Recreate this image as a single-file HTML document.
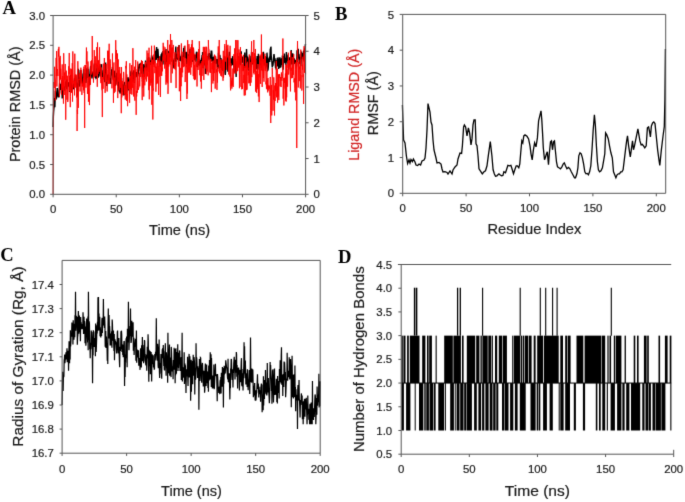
<!DOCTYPE html>
<html><head><meta charset="utf-8"><style>
html,body{margin:0;padding:0;background:#fff;}
svg{display:block;}
#w{width:685px;height:502px;overflow:hidden;will-change:transform;}
</style></head><body><div id="w">
<svg width="685" height="502" viewBox="0 0 685 502">
<defs><filter id="bl" x="0" y="0" width="685" height="502" filterUnits="userSpaceOnUse" color-interpolation-filters="sRGB"><feConvolveMatrix order="3" kernelMatrix="0.01134 0.08382 0.01134 0.08382 0.61935 0.08382 0.01134 0.08382 0.01134" edgeMode="duplicate" preserveAlpha="true"/></filter></defs>
<rect width="685" height="502" fill="#fff"/>
<g filter="url(#bl)">
<rect width="685" height="502" fill="#fff"/>
<polyline points="53.10,127.00 53.35,116.66 53.61,111.96 53.86,108.95 54.11,106.65 54.36,99.03 54.62,98.09 54.87,107.11 55.12,97.99 55.37,90.85 55.62,95.45 55.88,98.81 56.13,99.58 56.38,92.78 56.64,98.21 56.89,92.87 57.14,88.69 57.39,88.71 57.65,90.72 57.90,95.12 58.15,96.76 58.40,94.62 58.66,97.51 58.91,95.11 59.16,97.27 59.41,88.22 59.67,82.79 59.92,90.09 60.17,84.19 60.42,85.79 60.68,87.30 60.93,86.34 61.18,85.91 61.43,93.58 61.69,80.34 61.94,88.40 62.19,98.44 62.44,93.52 62.70,90.78 62.95,92.53 63.20,98.09 63.45,87.70 63.71,87.93 63.96,86.76 64.21,89.30 64.46,88.74 64.72,90.53 64.97,86.64 65.22,86.63 65.47,83.41 65.73,81.73 65.98,83.09 66.23,83.69 66.48,79.45 66.73,89.12 66.99,86.50 67.24,79.70 67.49,86.98 67.75,82.53 68.00,85.67 68.25,84.88 68.50,85.56 68.76,85.48 69.01,82.13 69.26,83.04 69.51,92.04 69.77,77.97 70.02,80.83 70.27,83.78 70.52,78.73 70.78,74.75 71.03,87.96 71.28,83.53 71.53,91.85 71.78,89.24 72.04,85.87 72.29,85.92 72.54,86.59 72.80,89.24 73.05,87.31 73.30,85.04 73.55,84.00 73.81,88.54 74.06,88.45 74.31,80.48 74.56,78.05 74.81,80.98 75.07,78.27 75.32,77.95 75.57,75.23 75.83,76.84 76.08,80.58 76.33,84.88 76.58,82.72 76.84,90.54 77.09,85.10 77.34,96.50 77.59,92.67 77.84,88.52 78.10,82.10 78.35,68.78 78.60,73.57 78.86,77.33 79.11,86.69 79.36,77.00 79.61,86.30 79.87,81.54 80.12,83.30 80.37,69.98 80.62,74.84 80.88,75.11 81.13,79.61 81.38,79.22 81.63,73.62 81.89,79.78 82.14,81.70 82.39,82.16 82.64,84.10 82.90,85.39 83.15,81.10 83.40,73.10 83.65,68.90 83.91,78.57 84.16,80.56 84.41,78.85 84.66,75.59 84.92,75.91 85.17,75.96 85.42,74.35 85.67,71.90 85.93,83.00 86.18,80.09 86.43,74.95 86.68,69.28 86.94,68.87 87.19,74.85 87.44,77.94 87.69,75.17 87.95,74.89 88.20,73.12 88.45,68.69 88.70,76.84 88.96,76.82 89.21,85.85 89.46,76.29 89.71,74.12 89.97,77.38 90.22,74.06 90.47,67.38 90.72,65.87 90.98,69.58 91.23,72.42 91.48,71.87 91.73,76.28 91.99,78.37 92.24,76.44 92.49,74.12 92.74,71.68 93.00,73.87 93.25,76.49 93.50,74.01 93.75,74.38 94.00,71.14 94.26,64.75 94.51,63.25 94.76,70.08 95.02,72.05 95.27,77.91 95.52,74.13 95.77,75.67 96.03,78.35 96.28,78.19 96.53,71.10 96.78,69.32 97.04,69.72 97.29,65.02 97.54,69.09 97.79,73.52 98.05,69.24 98.30,77.73 98.55,72.19 98.80,69.82 99.06,68.49 99.31,65.81 99.56,69.36 99.81,69.42 100.07,76.58 100.32,75.60 100.57,74.83 100.82,71.17 101.08,64.19 101.33,66.45 101.58,64.30 101.83,71.04 102.09,70.18 102.34,77.10 102.59,76.55 102.84,76.72 103.10,74.20 103.35,72.86 103.60,74.13 103.85,75.95 104.11,69.80 104.36,71.94 104.61,82.25 104.86,75.68 105.12,71.69 105.37,67.82 105.62,62.62 105.87,71.46 106.12,71.01 106.38,72.03 106.63,79.36 106.88,86.01 107.14,74.74 107.39,77.64 107.64,77.34 107.89,76.33 108.15,76.29 108.40,74.22 108.65,80.28 108.90,79.21 109.16,77.63 109.41,80.86 109.66,81.07 109.91,79.41 110.17,78.11 110.42,83.77 110.67,81.32 110.92,77.62 111.18,72.56 111.43,72.37 111.68,69.33 111.93,72.95 112.19,75.51 112.44,66.92 112.69,71.70 112.94,76.94 113.20,77.59 113.45,73.17 113.70,80.71 113.95,76.30 114.21,72.02 114.46,70.74 114.71,74.94 114.96,81.59 115.22,85.93 115.47,84.18 115.72,77.46 115.97,76.64 116.23,75.42 116.48,78.14 116.73,72.82 116.98,78.55 117.24,83.95 117.49,83.44 117.74,86.04 117.99,81.51 118.25,77.24 118.50,78.86 118.75,87.67 119.00,91.37 119.26,86.81 119.51,91.75 119.76,87.64 120.01,93.57 120.27,92.11 120.52,87.37 120.77,90.43 121.02,85.20 121.28,81.92 121.53,78.08 121.78,83.59 122.03,85.03 122.28,85.68 122.54,84.60 122.79,92.09 123.04,87.81 123.30,84.41 123.55,91.27 123.80,95.49 124.05,92.94 124.31,82.70 124.56,82.56 124.81,87.76 125.06,87.83 125.31,94.54 125.57,85.29 125.82,89.55 126.07,86.06 126.33,92.79 126.58,89.63 126.83,92.62 127.08,86.63 127.34,80.11 127.59,77.93 127.84,78.80 128.09,77.20 128.34,85.82 128.60,90.51 128.85,88.02 129.10,80.89 129.36,81.07 129.61,78.49 129.86,86.24 130.11,84.97 130.37,84.86 130.62,80.74 130.87,71.48 131.12,72.00 131.38,70.55 131.63,76.04 131.88,77.38 132.13,73.94 132.39,73.79 132.64,81.96 132.89,75.10 133.14,71.74 133.40,72.93 133.65,71.38 133.90,71.66 134.15,75.84 134.41,83.02 134.66,71.29 134.91,72.94 135.16,73.91 135.42,73.74 135.67,73.10 135.92,72.00 136.17,77.16 136.43,73.27 136.68,72.67 136.93,72.81 137.18,73.23 137.44,72.13 137.69,76.53 137.94,74.25 138.19,73.79 138.45,72.47 138.70,67.58 138.95,65.77 139.20,63.80 139.46,68.08 139.71,66.19 139.96,63.62 140.21,67.86 140.47,71.10 140.72,62.71 140.97,73.35 141.22,71.38 141.48,69.68 141.73,73.80 141.98,71.43 142.23,67.21 142.49,77.11 142.74,67.79 142.99,67.17 143.24,70.80 143.50,64.17 143.75,64.89 144.00,67.22 144.25,76.96 144.51,67.41 144.76,66.15 145.01,68.43 145.26,66.91 145.52,60.45 145.77,64.04 146.02,64.39 146.27,65.87 146.53,69.44 146.78,70.56 147.03,68.34 147.28,66.67 147.53,59.58 147.79,60.06 148.04,61.68 148.29,59.65 148.55,60.65 148.80,57.00 149.05,65.24 149.30,71.89 149.56,64.06 149.81,63.41 150.06,60.19 150.31,64.91 150.57,63.82 150.82,61.71 151.07,59.33 151.32,59.65 151.58,54.92 151.83,59.80 152.08,56.21 152.33,59.81 152.59,59.84 152.84,64.02 153.09,61.29 153.34,64.41 153.60,57.54 153.85,60.72 154.10,58.69 154.35,59.47 154.61,59.32 154.86,62.98 155.11,51.99 155.36,56.63 155.62,51.07 155.87,59.97 156.12,50.64 156.37,50.16 156.63,47.01 156.88,59.76 157.13,53.45 157.38,56.36 157.64,54.98 157.89,48.81 158.14,52.04 158.39,57.98 158.65,57.27 158.90,61.77 159.15,58.37 159.40,58.25 159.66,56.48 159.91,58.74 160.16,66.59 160.41,63.85 160.67,61.75 160.92,57.17 161.17,54.27 161.42,62.43 161.68,55.34 161.93,52.64 162.18,54.82 162.43,54.47 162.69,64.61 162.94,50.95 163.19,55.92 163.44,59.92 163.70,53.97 163.95,53.04 164.20,57.23 164.45,64.50 164.71,57.09 164.96,50.51 165.21,58.27 165.46,64.52 165.72,59.59 165.97,48.98 166.22,59.54 166.47,57.66 166.73,62.44 166.98,59.76 167.23,56.97 167.48,55.24 167.74,62.70 167.99,66.25 168.24,52.55 168.49,50.89 168.75,61.80 169.00,57.96 169.25,51.73 169.50,54.51 169.76,55.41 170.01,55.89 170.26,54.47 170.51,54.48 170.77,53.85 171.02,56.94 171.27,53.51 171.52,54.05 171.78,54.94 172.03,61.65 172.28,60.96 172.53,58.52 172.79,60.08 173.04,60.29 173.29,63.37 173.54,62.41 173.80,67.51 174.05,68.13 174.30,62.45 174.55,58.00 174.81,61.40 175.06,61.53 175.31,58.95 175.56,51.69 175.82,46.53 176.07,53.40 176.32,58.68 176.57,61.47 176.83,53.82 177.08,60.07 177.33,56.40 177.58,58.57 177.84,59.79 178.09,55.13 178.34,53.72 178.59,46.62 178.85,48.08 179.10,44.98 179.35,53.15 179.60,55.61 179.86,60.54 180.11,60.61 180.36,56.35 180.61,58.49 180.87,56.37 181.12,59.65 181.37,60.03 181.62,54.59 181.88,56.16 182.13,57.19 182.38,56.14 182.63,60.84 182.89,66.74 183.14,60.69 183.39,57.74 183.64,48.07 183.90,52.42 184.15,53.27 184.40,46.24 184.65,53.34 184.91,58.21 185.16,54.92 185.41,54.84 185.66,52.25 185.92,58.47 186.17,51.72 186.42,53.58 186.67,64.34 186.93,61.51 187.18,61.92 187.43,59.49 187.68,53.84 187.94,55.98 188.19,58.97 188.44,54.30 188.69,57.89 188.95,63.61 189.20,65.74 189.45,55.34 189.70,52.78 189.96,48.77 190.21,58.40 190.46,61.24 190.71,63.09 190.97,57.18 191.22,53.00 191.47,56.31 191.72,58.09 191.98,54.87 192.23,57.59 192.48,61.15 192.73,61.14 192.99,55.67 193.24,48.31 193.49,52.67 193.74,56.71 194.00,56.91 194.25,56.30 194.50,54.88 194.75,60.28 195.01,59.67 195.26,60.15 195.51,55.67 195.76,54.97 196.02,58.03 196.27,54.52 196.52,51.69 196.77,54.32 197.03,62.28 197.28,61.91 197.53,67.23 197.78,63.03 198.04,60.17 198.29,54.08 198.54,54.56 198.79,63.53 199.05,63.22 199.30,64.84 199.55,65.53 199.80,62.79 200.06,60.59 200.31,60.90 200.56,63.46 200.81,63.82 201.07,64.16 201.32,62.88 201.57,58.25 201.82,58.14 202.08,55.15 202.33,62.10 202.58,52.13 202.83,55.31 203.09,68.19 203.34,62.83 203.59,56.72 203.84,58.51 204.10,65.08 204.35,62.09 204.60,63.96 204.85,62.68 205.11,60.01 205.36,73.93 205.61,67.58 205.86,61.77 206.12,59.08 206.37,61.52 206.62,62.87 206.87,65.13 207.12,63.54 207.38,55.94 207.63,60.65 207.88,59.38 208.14,58.85 208.39,53.41 208.64,54.64 208.89,54.60 209.15,57.58 209.40,52.95 209.65,57.15 209.90,59.59 210.16,55.42 210.41,55.50 210.66,54.54 210.91,61.71 211.17,50.43 211.42,54.26 211.67,50.48 211.92,53.92 212.18,61.19 212.43,58.43 212.68,60.40 212.93,57.13 213.19,67.56 213.44,68.35 213.69,69.67 213.94,59.72 214.20,55.73 214.45,63.19 214.70,61.41 214.95,60.26 215.21,62.26 215.46,56.38 215.71,62.24 215.96,61.91 216.22,63.75 216.47,59.70 216.72,62.81 216.97,59.10 217.23,64.44 217.48,67.88 217.73,68.67 217.98,67.36 218.24,67.23 218.49,52.71 218.74,60.79 218.99,60.04 219.25,61.27 219.50,60.26 219.75,54.96 220.00,56.02 220.26,61.74 220.51,67.90 220.76,62.15 221.01,58.07 221.27,66.24 221.52,60.23 221.77,70.03 222.02,66.19 222.28,60.23 222.53,65.35 222.78,70.99 223.03,60.27 223.29,67.89 223.54,63.73 223.79,69.30 224.04,64.00 224.29,56.17 224.55,61.26 224.80,65.64 225.05,72.90 225.31,74.91 225.56,71.47 225.81,65.70 226.06,61.60 226.32,60.52 226.57,57.66 226.82,58.64 227.07,49.30 227.33,56.43 227.58,59.09 227.83,71.65 228.08,70.11 228.34,63.98 228.59,65.43 228.84,58.41 229.09,57.59 229.34,51.71 229.60,63.07 229.85,65.11 230.10,58.46 230.36,59.97 230.61,65.10 230.86,65.69 231.11,65.50 231.37,60.04 231.62,58.26 231.87,60.54 232.12,65.26 232.38,60.04 232.63,56.16 232.88,64.04 233.13,58.99 233.39,65.16 233.64,64.63 233.89,67.13 234.14,72.12 234.39,70.04 234.65,69.38 234.90,61.72 235.15,58.85 235.41,63.21 235.66,69.25 235.91,71.65 236.16,76.86 236.42,70.80 236.67,67.32 236.92,69.08 237.17,65.69 237.43,63.66 237.68,58.40 237.93,64.60 238.18,58.79 238.44,62.76 238.69,56.39 238.94,64.11 239.19,58.79 239.44,64.25 239.70,56.46 239.95,57.55 240.20,65.12 240.46,60.33 240.71,61.73 240.96,60.08 241.21,51.34 241.47,58.32 241.72,62.36 241.97,57.73 242.22,62.70 242.48,59.28 242.73,56.68 242.98,59.77 243.23,58.35 243.49,70.53 243.74,59.97 243.99,64.64 244.24,68.07 244.50,56.95 244.75,52.47 245.00,60.19 245.25,59.48 245.51,62.87 245.76,67.82 246.01,63.73 246.26,58.69 246.52,48.94 246.77,56.75 247.02,55.74 247.27,60.60 247.53,62.67 247.78,56.69 248.03,67.15 248.28,69.59 248.54,69.78 248.79,61.06 249.04,60.05 249.29,58.93 249.55,58.93 249.80,55.85 250.05,61.04 250.30,62.74 250.56,64.16 250.81,61.09 251.06,67.32 251.31,65.65 251.57,52.13 251.82,54.44 252.07,58.11 252.32,64.36 252.58,61.99 252.83,61.01 253.08,58.72 253.33,63.32 253.59,60.78 253.84,58.83 254.09,57.24 254.34,62.05 254.60,59.73 254.85,53.61 255.10,60.49 255.35,58.16 255.61,61.55 255.86,63.29 256.11,67.73 256.36,69.24 256.62,62.95 256.87,61.56 257.12,55.97 257.37,66.00 257.63,65.64 257.88,69.56 258.13,64.07 258.38,53.81 258.64,64.16 258.89,63.09 259.14,62.69 259.39,62.14 259.65,64.39 259.90,65.00 260.15,56.09 260.40,63.20 260.66,59.73 260.91,58.25 261.16,66.98 261.41,67.82 261.67,62.77 261.92,53.65 262.17,57.80 262.42,61.48 262.68,60.62 262.93,55.11 263.18,54.31 263.43,51.87 263.69,56.99 263.94,62.14 264.19,65.59 264.44,59.67 264.70,60.88 264.95,62.84 265.20,59.18 265.45,58.90 265.71,68.57 265.96,65.07 266.21,66.24 266.46,61.08 266.72,60.55 266.97,52.65 267.22,55.99 267.47,62.91 267.73,70.27 267.98,70.02 268.23,67.66 268.48,63.71 268.74,58.88 268.99,58.35 269.24,61.40 269.49,56.85 269.75,61.99 270.00,56.23 270.25,49.89 270.50,50.11 270.76,47.42 271.01,47.37 271.26,58.21 271.51,57.89 271.77,59.57 272.02,64.50 272.27,67.43 272.52,61.28 272.78,66.17 273.03,64.55 273.28,62.11 273.53,62.82 273.79,55.11 274.04,54.05 274.29,56.48 274.54,60.83 274.80,58.78 275.05,58.84 275.30,63.64 275.55,67.98 275.81,67.39 276.06,69.29 276.31,63.02 276.56,60.33 276.82,61.72 277.07,59.76 277.32,57.91 277.57,66.36 277.83,62.58 278.08,57.41 278.33,61.14 278.58,68.87 278.84,65.16 279.09,68.31 279.34,62.68 279.59,59.67 279.85,57.32 280.10,58.54 280.35,67.75 280.60,59.37 280.86,67.27 281.11,59.77 281.36,59.37 281.61,63.81 281.87,65.13 282.12,64.29 282.37,55.50 282.62,59.82 282.88,55.98 283.13,69.62 283.38,64.38 283.63,63.51 283.89,57.29 284.14,57.07 284.39,53.45 284.64,61.47 284.90,60.10 285.15,62.99 285.40,59.03 285.65,57.84 285.91,65.00 286.16,58.79 286.41,52.10 286.66,58.31 286.92,54.71 287.17,55.95 287.42,62.42 287.67,58.17 287.93,63.39 288.18,59.24 288.43,66.58 288.68,69.53 288.94,63.22 289.19,61.19 289.44,57.49 289.69,60.11 289.95,65.53 290.20,57.00 290.45,62.97 290.70,56.20 290.96,54.80 291.21,50.06 291.46,64.52 291.71,62.86 291.97,62.82 292.22,58.78 292.47,64.29 292.72,53.29 292.98,56.98 293.23,68.25 293.48,62.64 293.73,61.55 293.99,63.81 294.24,58.49 294.49,59.42 294.74,63.92 295.00,62.83 295.25,63.02 295.50,59.97 295.75,61.30 296.01,60.82 296.26,66.61 296.51,66.32 296.76,61.95 297.02,50.21 297.27,58.00 297.52,62.05 297.77,56.80 298.03,49.47 298.28,49.49 298.53,58.43 298.78,54.26 299.04,54.76 299.29,57.94 299.54,63.84 299.79,61.39 300.05,59.79 300.30,57.02 300.55,65.04 300.80,66.17 301.06,61.47 301.31,53.26 301.56,51.54 301.81,56.38 302.07,52.93 302.32,57.96 302.57,57.95 302.82,57.41 303.08,58.47 303.33,58.09 303.58,51.81 303.83,50.73 304.09,61.50 304.34,51.28 304.59,48.39 304.84,53.01 305.10,49.41 305.35,44.19 305.60,45.00" fill="none" stroke="#000" stroke-width="1.4" stroke-linejoin="miter"/>
<polyline points="53.10,194.30 53.35,130.00 53.61,95.00 53.86,82.00 54.11,88.00 54.36,86.44 54.62,66.79 54.87,74.58 55.12,84.12 55.37,100.44 55.62,79.94 55.88,76.92 56.13,57.91 56.38,76.10 56.64,51.03 56.89,86.50 57.14,69.30 57.39,69.02 57.65,71.47 57.90,76.02 58.15,51.32 58.40,48.88 58.66,56.48 58.91,46.85 59.16,62.84 59.41,96.69 59.67,57.63 59.92,80.12 60.17,55.89 60.42,79.18 60.68,68.73 60.93,72.55 61.18,79.78 61.43,94.72 61.69,79.11 61.94,77.30 62.19,64.39 62.44,87.62 62.70,76.11 62.95,90.37 63.20,80.06 63.45,103.61 63.71,53.21 63.96,75.83 64.21,94.98 64.46,75.37 64.72,72.47 64.97,79.72 65.22,63.97 65.47,88.52 65.73,119.74 65.98,99.48 66.23,70.64 66.48,74.96 66.73,80.18 66.99,99.75 67.24,75.73 67.49,78.74 67.75,101.98 68.00,99.04 68.25,83.07 68.50,71.80 68.76,66.26 69.01,73.89 69.26,52.98 69.51,91.08 69.77,76.00 70.02,93.09 70.27,107.15 70.52,96.37 70.78,68.58 71.03,89.63 71.28,93.00 71.53,69.22 71.78,70.47 72.04,83.20 72.29,63.13 72.54,101.61 72.80,51.42 73.05,72.06 73.30,81.33 73.55,80.93 73.81,86.80 74.06,87.67 74.31,80.84 74.56,95.36 74.81,53.69 75.07,80.35 75.32,74.52 75.57,86.94 75.83,87.70 76.08,74.58 76.33,76.73 76.58,97.45 76.84,91.11 77.09,131.00 77.34,109.79 77.59,114.00 77.84,61.20 78.10,79.19 78.35,107.85 78.60,84.55 78.86,78.97 79.11,80.03 79.36,73.67 79.61,76.63 79.87,73.28 80.12,91.45 80.37,76.43 80.62,75.50 80.88,67.67 81.13,83.63 81.38,69.93 81.63,79.01 81.89,94.91 82.14,83.71 82.39,86.61 82.64,82.86 82.90,82.03 83.15,80.23 83.40,78.16 83.65,90.34 83.91,66.60 84.16,92.93 84.41,74.27 84.66,128.00 84.92,65.03 85.17,66.07 85.42,73.24 85.67,65.15 85.93,87.67 86.18,65.88 86.43,47.55 86.68,63.81 86.94,51.35 87.19,80.37 87.44,93.89 87.69,87.56 87.95,61.46 88.20,66.23 88.45,101.73 88.70,81.36 88.96,77.11 89.21,88.54 89.46,105.08 89.71,87.43 89.97,76.47 90.22,78.97 90.47,84.88 90.72,68.85 90.98,61.13 91.23,74.55 91.48,60.41 91.73,72.03 91.99,73.28 92.24,36.00 92.49,57.67 92.74,65.93 93.00,70.57 93.25,76.90 93.50,82.57 93.75,64.50 94.00,64.31 94.26,50.11 94.51,59.24 94.76,76.90 95.02,66.86 95.27,56.27 95.52,65.19 95.77,71.17 96.03,75.85 96.28,63.61 96.53,67.08 96.78,47.17 97.04,53.47 97.29,86.80 97.54,42.48 97.79,65.43 98.05,73.90 98.30,66.59 98.55,60.27 98.80,69.03 99.06,71.88 99.31,70.37 99.56,47.27 99.81,69.83 100.07,63.93 100.32,69.33 100.57,79.75 100.82,83.12 101.08,82.70 101.33,67.49 101.58,88.00 101.83,90.39 102.09,90.91 102.34,117.06 102.59,77.25 102.84,78.24 103.10,88.78 103.35,63.63 103.60,79.48 103.85,71.64 104.11,74.21 104.36,57.99 104.61,72.59 104.86,85.91 105.12,92.87 105.37,88.84 105.62,76.83 105.87,72.34 106.12,64.00 106.38,81.84 106.63,69.06 106.88,75.08 107.14,91.49 107.39,69.55 107.64,50.85 107.89,59.81 108.15,50.59 108.40,51.01 108.65,83.97 108.90,68.88 109.16,43.75 109.41,74.68 109.66,83.65 109.91,65.05 110.17,59.39 110.42,63.20 110.67,69.89 110.92,73.65 111.18,82.62 111.43,82.31 111.68,84.21 111.93,88.35 112.19,85.17 112.44,53.49 112.69,74.11 112.94,79.65 113.20,70.77 113.45,102.80 113.70,67.05 113.95,62.46 114.21,93.08 114.46,83.73 114.71,77.63 114.96,90.01 115.22,91.66 115.47,76.93 115.72,40.16 115.97,59.11 116.23,55.44 116.48,50.02 116.73,70.91 116.98,85.29 117.24,62.42 117.49,53.50 117.74,98.09 117.99,68.21 118.25,59.38 118.50,78.53 118.75,81.67 119.00,70.06 119.26,90.32 119.51,74.92 119.76,66.97 120.01,82.26 120.27,87.98 120.52,73.55 120.77,82.27 121.02,77.08 121.28,113.19 121.53,67.08 121.78,97.46 122.03,83.42 122.28,80.94 122.54,92.79 122.79,95.27 123.04,93.10 123.30,82.85 123.55,71.89 123.80,73.17 124.05,83.44 124.31,84.25 124.56,94.15 124.81,85.81 125.06,94.25 125.31,99.57 125.57,87.09 125.82,65.91 126.07,68.40 126.33,61.22 126.58,100.70 126.83,74.43 127.08,100.27 127.34,93.65 127.59,106.19 127.84,97.76 128.09,83.86 128.34,81.86 128.60,84.96 128.85,89.07 129.10,81.44 129.36,86.11 129.61,102.80 129.86,63.23 130.11,88.93 130.37,76.09 130.62,87.94 130.87,93.93 131.12,80.80 131.38,90.07 131.63,65.10 131.88,94.60 132.13,74.51 132.39,87.90 132.64,83.16 132.89,48.17 133.14,68.94 133.40,78.64 133.65,96.43 133.90,80.64 134.15,82.07 134.41,66.69 134.66,97.94 134.91,100.70 135.16,80.99 135.42,78.13 135.67,60.05 135.92,89.71 136.17,114.84 136.43,91.17 136.68,96.48 136.93,85.70 137.18,69.19 137.44,92.68 137.69,61.51 137.94,76.58 138.19,80.26 138.45,89.87 138.70,87.92 138.95,87.63 139.20,75.23 139.46,72.81 139.71,86.35 139.96,75.28 140.21,64.84 140.47,65.22 140.72,77.02 140.97,63.07 141.22,65.80 141.48,60.20 141.73,79.44 141.98,82.64 142.23,100.11 142.49,61.03 142.74,70.77 142.99,87.83 143.24,74.90 143.50,74.00 143.75,96.56 144.00,74.46 144.25,69.03 144.51,67.62 144.76,85.36 145.01,80.46 145.26,62.24 145.52,62.01 145.77,76.36 146.02,79.43 146.27,67.57 146.53,81.48 146.78,77.22 147.03,50.54 147.28,66.17 147.53,76.42 147.79,70.61 148.04,53.11 148.29,71.81 148.55,80.74 148.80,90.16 149.05,47.72 149.30,99.30 149.56,58.19 149.81,79.46 150.06,85.70 150.31,85.43 150.57,78.29 150.82,62.08 151.07,82.92 151.32,67.18 151.58,45.78 151.83,104.73 152.08,78.14 152.33,87.77 152.59,59.75 152.84,119.50 153.09,88.49 153.34,90.49 153.60,68.99 153.85,54.52 154.10,66.95 154.35,45.63 154.61,50.63 154.86,73.18 155.11,61.46 155.36,67.89 155.62,66.74 155.87,91.71 156.12,85.79 156.37,66.68 156.63,84.13 156.88,63.30 157.13,70.94 157.38,83.39 157.64,58.39 157.89,66.41 158.14,60.42 158.39,75.31 158.65,95.00 158.90,66.06 159.15,76.62 159.40,59.89 159.66,56.24 159.91,57.50 160.16,84.43 160.41,96.99 160.67,76.61 160.92,60.73 161.17,75.46 161.42,63.12 161.68,75.90 161.93,69.32 162.18,67.77 162.43,71.30 162.69,56.49 162.94,56.44 163.19,42.82 163.44,59.79 163.70,46.11 163.95,61.13 164.20,51.46 164.45,61.88 164.71,68.59 164.96,47.29 165.21,57.83 165.46,54.73 165.72,74.49 165.97,84.67 166.22,73.72 166.47,62.03 166.73,81.80 166.98,50.29 167.23,83.31 167.48,57.07 167.74,40.00 167.99,93.89 168.24,84.25 168.49,53.32 168.75,66.58 169.00,58.75 169.25,64.23 169.50,44.74 169.76,50.28 170.01,63.86 170.26,64.41 170.51,34.00 170.77,58.44 171.02,82.83 171.27,47.78 171.52,60.57 171.78,40.00 172.03,42.64 172.28,73.36 172.53,47.51 172.79,65.46 173.04,57.43 173.29,44.94 173.54,49.82 173.80,53.52 174.05,53.86 174.30,68.71 174.55,68.07 174.81,55.38 175.06,52.22 175.31,69.60 175.56,62.82 175.82,71.88 176.07,88.06 176.32,66.12 176.57,59.17 176.83,60.07 177.08,50.84 177.33,47.91 177.58,47.03 177.84,57.54 178.09,51.53 178.34,66.62 178.59,52.67 178.85,58.13 179.10,45.25 179.35,91.28 179.60,61.90 179.86,74.99 180.11,68.37 180.36,78.34 180.61,101.00 180.87,67.86 181.12,86.21 181.37,43.45 181.62,70.75 181.88,77.22 182.13,63.83 182.38,65.93 182.63,72.41 182.89,51.77 183.14,67.19 183.39,57.04 183.64,58.49 183.90,57.19 184.15,62.37 184.40,64.33 184.65,66.39 184.91,45.60 185.16,82.03 185.41,74.68 185.66,69.97 185.92,58.62 186.17,61.48 186.42,67.36 186.67,64.23 186.93,99.00 187.18,67.62 187.43,93.49 187.68,40.10 187.94,69.85 188.19,63.75 188.44,56.11 188.69,72.65 188.95,44.09 189.20,55.92 189.45,72.43 189.70,55.15 189.96,53.33 190.21,59.41 190.46,53.17 190.71,74.68 190.97,47.21 191.22,67.35 191.47,44.34 191.72,64.54 191.98,57.33 192.23,40.00 192.48,60.05 192.73,47.62 192.99,56.63 193.24,76.14 193.49,47.62 193.74,49.41 194.00,79.11 194.25,65.05 194.50,80.11 194.75,65.90 195.01,53.80 195.26,64.20 195.51,79.47 195.76,72.77 196.02,63.53 196.27,66.79 196.52,66.89 196.77,61.51 197.03,86.48 197.28,66.45 197.53,52.78 197.78,54.64 198.04,70.01 198.29,66.25 198.54,55.34 198.79,49.00 199.05,60.97 199.30,41.18 199.55,46.71 199.80,75.23 200.06,63.77 200.31,72.75 200.56,81.44 200.81,71.75 201.07,63.05 201.32,88.68 201.57,72.78 201.82,61.17 202.08,75.88 202.33,70.07 202.58,55.24 202.83,67.58 203.09,65.84 203.34,46.88 203.59,67.86 203.84,80.00 204.10,63.65 204.35,46.88 204.60,58.14 204.85,63.48 205.11,65.17 205.36,51.60 205.61,68.47 205.86,46.74 206.12,57.58 206.37,74.21 206.62,46.87 206.87,49.76 207.12,71.59 207.38,56.32 207.63,56.64 207.88,63.39 208.14,75.35 208.39,40.00 208.64,48.50 208.89,48.63 209.15,49.92 209.40,56.72 209.65,59.15 209.90,72.58 210.16,58.73 210.41,71.67 210.66,72.95 210.91,59.16 211.17,70.82 211.42,92.12 211.67,75.20 211.92,62.91 212.18,69.24 212.43,61.52 212.68,74.25 212.93,83.52 213.19,60.44 213.44,66.41 213.69,80.85 213.94,63.34 214.20,73.06 214.45,54.65 214.70,54.76 214.95,59.20 215.21,88.65 215.46,55.82 215.71,57.41 215.96,58.35 216.22,64.04 216.47,72.28 216.72,69.25 216.97,89.88 217.23,70.95 217.48,82.58 217.73,67.07 217.98,71.48 218.24,46.40 218.49,63.36 218.74,64.64 218.99,60.50 219.25,40.00 219.50,73.28 219.75,60.99 220.00,58.92 220.26,60.20 220.51,63.50 220.76,75.68 221.01,59.88 221.27,62.52 221.52,75.89 221.77,76.53 222.02,68.73 222.28,63.05 222.53,59.59 222.78,68.95 223.03,80.74 223.29,50.80 223.54,77.77 223.79,72.15 224.04,55.82 224.29,70.45 224.55,45.40 224.80,44.12 225.05,48.64 225.31,60.22 225.56,59.24 225.81,56.55 226.06,61.79 226.32,40.00 226.57,69.81 226.82,46.05 227.07,54.49 227.33,57.36 227.58,50.76 227.83,44.82 228.08,47.42 228.34,59.10 228.59,72.78 228.84,74.59 229.09,55.77 229.34,59.47 229.60,62.15 229.85,76.53 230.10,45.77 230.36,86.22 230.61,90.39 230.86,63.36 231.11,74.31 231.37,86.10 231.62,80.66 231.87,88.63 232.12,77.85 232.38,84.50 232.63,85.49 232.88,68.51 233.13,86.97 233.39,72.93 233.64,70.47 233.89,54.23 234.14,62.62 234.39,73.44 234.65,48.36 234.90,70.37 235.15,66.53 235.41,60.95 235.66,40.00 235.91,61.71 236.16,73.57 236.42,61.48 236.67,70.93 236.92,40.00 237.17,71.18 237.43,53.11 237.68,71.02 237.93,40.18 238.18,66.39 238.44,57.65 238.69,67.68 238.94,49.41 239.19,54.01 239.44,88.24 239.70,52.81 239.95,54.00 240.20,58.72 240.46,47.15 240.71,74.86 240.96,86.82 241.21,63.15 241.47,53.90 241.72,89.32 241.97,86.31 242.22,85.90 242.48,89.00 242.73,64.12 242.98,71.20 243.23,56.61 243.49,54.89 243.74,83.12 243.99,74.87 244.24,95.53 244.50,74.99 244.75,65.93 245.00,82.21 245.25,95.25 245.51,80.91 245.76,57.54 246.01,75.99 246.26,90.18 246.52,68.26 246.77,64.91 247.02,89.63 247.27,76.84 247.53,61.79 247.78,68.88 248.03,67.74 248.28,75.20 248.54,71.61 248.79,83.26 249.04,80.08 249.29,54.51 249.55,81.38 249.80,83.14 250.05,79.78 250.30,85.89 250.56,65.42 250.81,62.14 251.06,82.63 251.31,54.22 251.57,41.29 251.82,77.11 252.07,56.00 252.32,63.36 252.58,52.08 252.83,57.42 253.08,59.07 253.33,65.22 253.59,72.91 253.84,40.00 254.09,74.38 254.34,53.39 254.60,54.22 254.85,71.66 255.10,65.79 255.35,48.98 255.61,91.60 255.86,59.89 256.11,75.30 256.36,75.07 256.62,92.82 256.87,70.98 257.12,89.23 257.37,68.57 257.63,87.18 257.88,64.03 258.13,68.38 258.38,96.41 258.64,74.17 258.89,76.05 259.14,102.05 259.39,76.26 259.65,58.27 259.90,77.30 260.15,54.67 260.40,81.77 260.66,83.82 260.91,61.42 261.16,62.89 261.41,34.50 261.67,70.44 261.92,61.61 262.17,86.98 262.42,52.38 262.68,70.90 262.93,69.50 263.18,73.49 263.43,78.08 263.69,58.87 263.94,81.73 264.19,70.75 264.44,63.75 264.70,55.11 264.95,53.64 265.20,70.94 265.45,55.94 265.71,70.88 265.96,84.36 266.21,81.37 266.46,88.75 266.72,69.85 266.97,62.92 267.22,89.56 267.47,79.71 267.73,92.37 267.98,78.00 268.23,90.52 268.48,85.42 268.74,88.51 268.99,86.98 269.24,88.86 269.49,85.65 269.75,87.96 270.00,95.73 270.25,76.97 270.50,110.69 270.76,123.00 271.01,100.47 271.26,86.47 271.51,84.90 271.77,115.41 272.02,84.59 272.27,68.01 272.52,74.51 272.78,79.76 273.03,110.80 273.28,90.14 273.53,99.62 273.79,77.35 274.04,90.88 274.29,96.85 274.54,115.49 274.80,85.50 275.05,101.02 275.30,96.65 275.55,83.06 275.81,91.17 276.06,86.43 276.31,60.86 276.56,97.32 276.82,94.09 277.07,81.60 277.32,68.70 277.57,102.67 277.83,86.48 278.08,92.15 278.33,96.56 278.58,74.54 278.84,100.10 279.09,74.05 279.34,77.55 279.59,74.17 279.85,75.48 280.10,86.36 280.35,76.99 280.60,79.05 280.86,81.47 281.11,87.03 281.36,72.45 281.61,76.24 281.87,80.82 282.12,77.16 282.37,78.05 282.62,73.74 282.88,38.50 283.13,98.69 283.38,87.11 283.63,78.19 283.89,105.45 284.14,83.62 284.39,77.76 284.64,82.84 284.90,80.74 285.15,88.55 285.40,73.50 285.65,100.80 285.91,64.47 286.16,101.62 286.41,64.85 286.66,97.35 286.92,69.11 287.17,71.82 287.42,86.47 287.67,86.71 287.93,60.81 288.18,68.20 288.43,52.74 288.68,74.55 288.94,71.18 289.19,64.93 289.44,60.30 289.69,66.45 289.95,64.83 290.20,78.79 290.45,91.41 290.70,50.98 290.96,70.81 291.21,67.68 291.46,78.21 291.71,78.08 291.97,67.60 292.22,57.02 292.47,78.05 292.72,69.48 292.98,65.50 293.23,74.90 293.48,67.90 293.73,54.08 293.99,82.38 294.24,79.27 294.49,78.37 294.74,88.62 295.00,92.30 295.25,62.61 295.50,69.82 295.75,100.40 296.01,92.52 296.26,63.51 296.51,59.39 296.76,148.00 297.02,69.88 297.27,55.81 297.52,41.00 297.77,60.54 298.03,60.32 298.28,87.47 298.53,62.08 298.78,70.84 299.04,76.57 299.29,81.15 299.54,66.64 299.79,69.03 300.05,59.73 300.30,88.43 300.55,73.56 300.80,49.61 301.06,63.86 301.31,74.41 301.56,74.60 301.81,90.55 302.07,87.71 302.32,64.75 302.57,69.72 302.82,56.72 303.08,77.11 303.33,74.53 303.58,103.94 303.83,72.28 304.09,46.24 304.34,60.90 304.59,72.77 304.84,55.36 305.10,61.01 305.35,64.87 305.60,74.22" fill="none" stroke="#ff0000" stroke-width="0.9" stroke-linejoin="miter"/>
<line x1="53.10" y1="15.50" x2="305.60" y2="15.50" stroke="#555555" stroke-width="1.0"/>
<line x1="53.10" y1="194.30" x2="305.60" y2="194.30" stroke="#555555" stroke-width="1.0"/>
<line x1="53.10" y1="15.50" x2="53.10" y2="194.30" stroke="#555555" stroke-width="1.0"/>
<line x1="305.60" y1="15.50" x2="305.60" y2="194.30" stroke="#555555" stroke-width="1.0"/>
<line x1="50.10" y1="194.30" x2="53.10" y2="194.30" stroke="#555555" stroke-width="1.0"/>
<text x="45.00" y="198.40" font-size="11.4" text-anchor="end" fill="#1a1a1a" font-family='"Liberation Sans", sans-serif' font-weight="normal" stroke="#1a1a1a" stroke-width="0.2">0.0</text>
<line x1="50.10" y1="164.50" x2="53.10" y2="164.50" stroke="#555555" stroke-width="1.0"/>
<text x="45.00" y="168.60" font-size="11.4" text-anchor="end" fill="#1a1a1a" font-family='"Liberation Sans", sans-serif' font-weight="normal" stroke="#1a1a1a" stroke-width="0.2">0.5</text>
<line x1="50.10" y1="134.70" x2="53.10" y2="134.70" stroke="#555555" stroke-width="1.0"/>
<text x="45.00" y="138.80" font-size="11.4" text-anchor="end" fill="#1a1a1a" font-family='"Liberation Sans", sans-serif' font-weight="normal" stroke="#1a1a1a" stroke-width="0.2">1.0</text>
<line x1="50.10" y1="104.90" x2="53.10" y2="104.90" stroke="#555555" stroke-width="1.0"/>
<text x="45.00" y="109.00" font-size="11.4" text-anchor="end" fill="#1a1a1a" font-family='"Liberation Sans", sans-serif' font-weight="normal" stroke="#1a1a1a" stroke-width="0.2">1.5</text>
<line x1="50.10" y1="75.10" x2="53.10" y2="75.10" stroke="#555555" stroke-width="1.0"/>
<text x="45.00" y="79.20" font-size="11.4" text-anchor="end" fill="#1a1a1a" font-family='"Liberation Sans", sans-serif' font-weight="normal" stroke="#1a1a1a" stroke-width="0.2">2.0</text>
<line x1="50.10" y1="45.30" x2="53.10" y2="45.30" stroke="#555555" stroke-width="1.0"/>
<text x="45.00" y="49.40" font-size="11.4" text-anchor="end" fill="#1a1a1a" font-family='"Liberation Sans", sans-serif' font-weight="normal" stroke="#1a1a1a" stroke-width="0.2">2.5</text>
<line x1="50.10" y1="15.50" x2="53.10" y2="15.50" stroke="#555555" stroke-width="1.0"/>
<text x="45.00" y="19.60" font-size="11.4" text-anchor="end" fill="#1a1a1a" font-family='"Liberation Sans", sans-serif' font-weight="normal" stroke="#1a1a1a" stroke-width="0.2">3.0</text>
<line x1="305.60" y1="194.30" x2="308.60" y2="194.30" stroke="#555555" stroke-width="1.0"/>
<text x="313.60" y="198.40" font-size="11.4" text-anchor="start" fill="#1a1a1a" font-family='"Liberation Sans", sans-serif' font-weight="normal" stroke="#1a1a1a" stroke-width="0.2">0</text>
<line x1="305.60" y1="158.54" x2="308.60" y2="158.54" stroke="#555555" stroke-width="1.0"/>
<text x="313.60" y="162.64" font-size="11.4" text-anchor="start" fill="#1a1a1a" font-family='"Liberation Sans", sans-serif' font-weight="normal" stroke="#1a1a1a" stroke-width="0.2">1</text>
<line x1="305.60" y1="122.78" x2="308.60" y2="122.78" stroke="#555555" stroke-width="1.0"/>
<text x="313.60" y="126.88" font-size="11.4" text-anchor="start" fill="#1a1a1a" font-family='"Liberation Sans", sans-serif' font-weight="normal" stroke="#1a1a1a" stroke-width="0.2">2</text>
<line x1="305.60" y1="87.02" x2="308.60" y2="87.02" stroke="#555555" stroke-width="1.0"/>
<text x="313.60" y="91.12" font-size="11.4" text-anchor="start" fill="#1a1a1a" font-family='"Liberation Sans", sans-serif' font-weight="normal" stroke="#1a1a1a" stroke-width="0.2">3</text>
<line x1="305.60" y1="51.26" x2="308.60" y2="51.26" stroke="#555555" stroke-width="1.0"/>
<text x="313.60" y="55.36" font-size="11.4" text-anchor="start" fill="#1a1a1a" font-family='"Liberation Sans", sans-serif' font-weight="normal" stroke="#1a1a1a" stroke-width="0.2">4</text>
<line x1="305.60" y1="15.50" x2="308.60" y2="15.50" stroke="#555555" stroke-width="1.0"/>
<text x="313.60" y="19.60" font-size="11.4" text-anchor="start" fill="#1a1a1a" font-family='"Liberation Sans", sans-serif' font-weight="normal" stroke="#1a1a1a" stroke-width="0.2">5</text>
<line x1="53.10" y1="194.30" x2="53.10" y2="197.30" stroke="#555555" stroke-width="1.0"/>
<text x="53.10" y="212.70" font-size="11.4" text-anchor="middle" fill="#1a1a1a" font-family='"Liberation Sans", sans-serif' font-weight="normal" stroke="#1a1a1a" stroke-width="0.2">0</text>
<line x1="116.23" y1="194.30" x2="116.23" y2="197.30" stroke="#555555" stroke-width="1.0"/>
<text x="116.23" y="212.70" font-size="11.4" text-anchor="middle" fill="#1a1a1a" font-family='"Liberation Sans", sans-serif' font-weight="normal" stroke="#1a1a1a" stroke-width="0.2">50</text>
<line x1="179.35" y1="194.30" x2="179.35" y2="197.30" stroke="#555555" stroke-width="1.0"/>
<text x="179.35" y="212.70" font-size="11.4" text-anchor="middle" fill="#1a1a1a" font-family='"Liberation Sans", sans-serif' font-weight="normal" stroke="#1a1a1a" stroke-width="0.2">100</text>
<line x1="242.48" y1="194.30" x2="242.48" y2="197.30" stroke="#555555" stroke-width="1.0"/>
<text x="242.48" y="212.70" font-size="11.4" text-anchor="middle" fill="#1a1a1a" font-family='"Liberation Sans", sans-serif' font-weight="normal" stroke="#1a1a1a" stroke-width="0.2">150</text>
<line x1="305.60" y1="194.30" x2="305.60" y2="197.30" stroke="#555555" stroke-width="1.0"/>
<text x="305.60" y="212.70" font-size="11.4" text-anchor="middle" fill="#1a1a1a" font-family='"Liberation Sans", sans-serif' font-weight="normal" stroke="#1a1a1a" stroke-width="0.2">200</text>
<text x="179.60" y="234.60" font-size="14.2" text-anchor="middle" fill="#1a1a1a" font-family='"Liberation Sans", sans-serif' font-weight="normal" stroke="#1a1a1a" stroke-width="0.2" textLength="61.00" lengthAdjust="spacingAndGlyphs">Time (ns)</text>
<text x="20.40" y="104.30" font-size="14.2" text-anchor="middle" fill="#1a1a1a" font-family='"Liberation Sans", sans-serif' font-weight="normal" stroke="#1a1a1a" stroke-width="0.2" transform="rotate(-90 20.40 104.30)" textLength="115.60" lengthAdjust="spacingAndGlyphs">Protein RMSD (Å)</text>
<text x="358.80" y="104.80" font-size="14.2" text-anchor="middle" fill="#d22424" font-family='"Liberation Sans", sans-serif' font-weight="normal" stroke="#d22424" stroke-width="0.2" transform="rotate(-90 358.80 104.80)" textLength="112.00" lengthAdjust="spacingAndGlyphs">Ligand RMSD (Å)</text>
<text x="2.50" y="13.70" font-size="18.6" text-anchor="start" fill="#000" font-family='"Liberation Serif", serif' font-weight="bold">A</text>
<polyline points="402.40,105.00 403.60,140.00 405.00,143.00 406.40,156.00 407.60,163.60 409.00,160.00 410.00,163.00 411.00,159.60 412.40,161.60 413.40,159.00 415.00,162.00 416.00,165.00 417.60,165.60 419.00,164.00 420.60,165.00 422.00,161.00 424.00,160.00 425.00,158.00 426.00,148.00 427.00,130.00 428.00,103.60 430.00,112.00 431.00,122.00 432.00,125.00 433.00,140.00 434.00,150.00 436.00,158.00 437.00,163.00 439.00,162.40 441.00,164.00 442.00,169.00 443.00,172.00 445.00,171.60 447.00,172.40 448.00,174.00 450.00,171.00 452.00,174.00 453.00,170.00 455.00,167.00 457.00,165.00 458.00,159.00 460.00,153.00 461.60,153.40 462.40,145.80 463.60,126.90 464.40,124.90 465.60,126.90 467.00,135.90 468.40,127.90 469.60,132.90 471.00,144.80 472.00,138.90 473.00,124.90 474.00,119.90 475.20,119.90 476.00,143.80 477.00,145.80 478.00,155.80 479.00,168.80 481.00,171.80 482.30,173.80 484.00,171.80 485.50,170.80 487.00,165.80 488.30,155.80 490.30,141.50 491.90,155.80 493.10,169.80 494.30,173.80 495.50,176.20 496.90,175.80 498.90,173.80 499.90,174.80 501.50,175.80 502.90,175.40 503.90,171.80 505.50,172.80 506.50,169.80 507.90,165.40 509.50,165.80 510.90,165.40 512.30,169.80 513.50,173.80 514.80,169.80 516.20,165.80 517.40,165.80 518.80,167.80 519.80,163.80 520.80,151.80 521.80,140.90 522.80,142.90 523.80,135.90 525.00,134.90 527.00,136.30 528.60,138.90 530.00,145.80 531.00,153.80 532.20,159.80 533.40,149.80 534.60,142.90 536.00,146.80 537.40,137.90 538.60,120.90 539.80,115.90 541.00,110.90 541.80,119.90 542.60,133.90 543.30,147.80 544.50,159.80 545.30,157.80 546.50,153.80 547.30,151.80 548.50,164.80 549.30,153.80 550.50,141.90 551.50,140.90 552.50,149.80 553.50,141.90 554.50,140.90 555.30,149.80 556.50,161.80 557.50,166.80 558.90,167.80 560.50,168.80 561.90,166.80 563.30,163.80 564.30,162.80 565.50,165.80 566.90,168.80 568.50,167.40 569.90,168.80 571.30,171.80 572.90,174.80 574.50,177.80 575.50,177.80 576.90,173.80 577.90,167.80 578.80,155.80 580.00,152.80 581.20,153.80 582.40,157.80 583.60,163.80 584.80,171.80 586.00,173.80 587.20,173.40 588.40,174.80 589.60,171.80 590.80,165.80 592.00,149.80 593.20,129.90 594.40,114.90 595.40,125.90 596.40,145.80 597.40,161.80 598.40,169.80 599.60,171.80 601.00,170.80 602.40,167.80 603.60,160.80 604.80,153.80 605.60,132.90 606.80,134.90 608.30,138.90 609.50,145.80 610.90,152.80 612.30,157.80 613.50,171.80 614.70,174.80 615.90,177.80 617.10,174.80 618.30,173.80 619.50,173.80 620.70,171.80 621.90,171.80 623.10,169.80 624.30,159.80 625.50,149.80 626.50,141.90 627.50,135.90 628.50,144.80 629.50,151.80 630.30,156.80 631.30,149.80 632.50,140.90 633.50,149.80 634.50,145.80 635.50,140.90 636.90,133.90 637.90,128.90 638.90,134.90 639.90,140.90 641.10,144.80 642.30,144.20 643.50,145.80 644.80,147.80 646.20,145.80 647.40,127.90 648.60,126.90 649.60,131.90 650.40,136.90 651.40,125.90 652.60,122.90 653.80,121.90 655.00,123.60 656.50,138.50 657.70,150.40 658.90,159.40 659.80,165.40 661.30,150.40 663.10,135.50 664.30,126.60 664.90,99.70 665.40,49.00" fill="none" stroke="#000" stroke-width="1.3" stroke-linejoin="miter"/>
<line x1="402.70" y1="14.40" x2="665.70" y2="14.40" stroke="#555555" stroke-width="1.0"/>
<line x1="402.70" y1="193.30" x2="665.70" y2="193.30" stroke="#555555" stroke-width="1.0"/>
<line x1="402.70" y1="14.40" x2="402.70" y2="193.30" stroke="#555555" stroke-width="1.0"/>
<line x1="665.70" y1="14.40" x2="665.70" y2="193.30" stroke="#555555" stroke-width="1.0"/>
<line x1="399.70" y1="193.30" x2="402.70" y2="193.30" stroke="#555555" stroke-width="1.0"/>
<text x="394.20" y="197.40" font-size="11.4" text-anchor="end" fill="#1a1a1a" font-family='"Liberation Sans", sans-serif' font-weight="normal" stroke="#1a1a1a" stroke-width="0.2">0</text>
<line x1="399.70" y1="157.52" x2="402.70" y2="157.52" stroke="#555555" stroke-width="1.0"/>
<text x="394.20" y="161.62" font-size="11.4" text-anchor="end" fill="#1a1a1a" font-family='"Liberation Sans", sans-serif' font-weight="normal" stroke="#1a1a1a" stroke-width="0.2">1</text>
<line x1="399.70" y1="121.74" x2="402.70" y2="121.74" stroke="#555555" stroke-width="1.0"/>
<text x="394.20" y="125.84" font-size="11.4" text-anchor="end" fill="#1a1a1a" font-family='"Liberation Sans", sans-serif' font-weight="normal" stroke="#1a1a1a" stroke-width="0.2">2</text>
<line x1="399.70" y1="85.96" x2="402.70" y2="85.96" stroke="#555555" stroke-width="1.0"/>
<text x="394.20" y="90.06" font-size="11.4" text-anchor="end" fill="#1a1a1a" font-family='"Liberation Sans", sans-serif' font-weight="normal" stroke="#1a1a1a" stroke-width="0.2">3</text>
<line x1="399.70" y1="50.18" x2="402.70" y2="50.18" stroke="#555555" stroke-width="1.0"/>
<text x="394.20" y="54.28" font-size="11.4" text-anchor="end" fill="#1a1a1a" font-family='"Liberation Sans", sans-serif' font-weight="normal" stroke="#1a1a1a" stroke-width="0.2">4</text>
<line x1="399.70" y1="14.40" x2="402.70" y2="14.40" stroke="#555555" stroke-width="1.0"/>
<text x="394.20" y="18.50" font-size="11.4" text-anchor="end" fill="#1a1a1a" font-family='"Liberation Sans", sans-serif' font-weight="normal" stroke="#1a1a1a" stroke-width="0.2">5</text>
<line x1="402.70" y1="193.30" x2="402.70" y2="196.30" stroke="#555555" stroke-width="1.0"/>
<text x="402.70" y="212.30" font-size="11.4" text-anchor="middle" fill="#1a1a1a" font-family='"Liberation Sans", sans-serif' font-weight="normal" stroke="#1a1a1a" stroke-width="0.2">0</text>
<line x1="466.10" y1="193.30" x2="466.10" y2="196.30" stroke="#555555" stroke-width="1.0"/>
<text x="466.10" y="212.30" font-size="11.4" text-anchor="middle" fill="#1a1a1a" font-family='"Liberation Sans", sans-serif' font-weight="normal" stroke="#1a1a1a" stroke-width="0.2">50</text>
<line x1="529.50" y1="193.30" x2="529.50" y2="196.30" stroke="#555555" stroke-width="1.0"/>
<text x="529.50" y="212.30" font-size="11.4" text-anchor="middle" fill="#1a1a1a" font-family='"Liberation Sans", sans-serif' font-weight="normal" stroke="#1a1a1a" stroke-width="0.2">100</text>
<line x1="592.90" y1="193.30" x2="592.90" y2="196.30" stroke="#555555" stroke-width="1.0"/>
<text x="592.90" y="212.30" font-size="11.4" text-anchor="middle" fill="#1a1a1a" font-family='"Liberation Sans", sans-serif' font-weight="normal" stroke="#1a1a1a" stroke-width="0.2">150</text>
<line x1="656.30" y1="193.30" x2="656.30" y2="196.30" stroke="#555555" stroke-width="1.0"/>
<text x="656.30" y="212.30" font-size="11.4" text-anchor="middle" fill="#1a1a1a" font-family='"Liberation Sans", sans-serif' font-weight="normal" stroke="#1a1a1a" stroke-width="0.2">200</text>
<text x="534.40" y="234.10" font-size="14.2" text-anchor="middle" fill="#1a1a1a" font-family='"Liberation Sans", sans-serif' font-weight="normal" stroke="#1a1a1a" stroke-width="0.2" textLength="93.80" lengthAdjust="spacingAndGlyphs">Residue Index</text>
<text x="378.20" y="103.20" font-size="14.2" text-anchor="middle" fill="#1a1a1a" font-family='"Liberation Sans", sans-serif' font-weight="normal" stroke="#1a1a1a" stroke-width="0.2" transform="rotate(-90 378.20 103.20)" textLength="64.10" lengthAdjust="spacingAndGlyphs">RMSF (Å)</text>
<text x="335.00" y="19.70" font-size="18.6" text-anchor="start" fill="#000" font-family='"Liberation Serif", serif' font-weight="bold">B</text>
<polyline points="62.10,405.00 62.36,389.14 62.62,371.79 62.87,379.58 63.13,391.11 63.39,376.64 63.65,376.91 63.91,376.40 64.16,360.07 64.42,358.84 64.68,354.42 64.94,363.12 65.20,359.93 65.46,358.51 65.71,357.77 65.97,352.30 66.23,355.88 66.49,359.45 66.75,352.65 67.00,348.16 67.26,362.14 67.52,354.66 67.78,353.90 68.04,352.22 68.29,350.89 68.55,370.77 68.81,356.82 69.07,341.35 69.33,342.46 69.58,363.36 69.84,351.21 70.10,359.54 70.36,330.29 70.62,346.57 70.88,341.87 71.13,332.89 71.39,334.10 71.65,333.34 71.91,322.54 72.17,336.76 72.42,331.67 72.68,327.14 72.94,344.44 73.20,320.18 73.46,329.15 73.71,324.24 73.97,339.77 74.23,323.88 74.49,326.68 74.75,337.18 75.00,315.15 75.26,328.20 75.52,291.73 75.78,330.68 76.04,325.48 76.30,315.88 76.55,324.31 76.81,319.73 77.07,316.79 77.33,344.85 77.59,337.27 77.84,335.22 78.10,323.83 78.36,311.06 78.62,317.59 78.88,333.84 79.13,325.30 79.39,315.57 79.65,331.96 79.91,328.37 80.17,322.45 80.43,341.35 80.68,316.99 80.94,328.52 81.20,322.36 81.46,329.17 81.72,325.07 81.97,327.05 82.23,324.01 82.49,325.66 82.75,329.22 83.01,312.22 83.26,318.82 83.52,333.98 83.78,329.82 84.04,316.65 84.30,333.77 84.55,321.01 84.81,323.23 85.07,343.15 85.33,326.51 85.59,332.57 85.85,345.62 86.10,342.16 86.36,330.37 86.62,318.42 86.88,329.58 87.14,328.87 87.39,336.06 87.65,342.56 87.91,316.43 88.17,350.34 88.43,291.73 88.68,320.36 88.94,340.34 89.20,321.24 89.46,324.00 89.72,349.34 89.97,342.88 90.23,358.29 90.49,342.81 90.75,349.22 91.01,343.99 91.27,330.40 91.52,337.14 91.78,331.91 92.04,337.00 92.30,351.62 92.56,383.31 92.81,339.99 93.07,355.16 93.33,330.15 93.59,336.83 93.85,331.49 94.10,347.00 94.36,338.62 94.62,339.19 94.88,342.12 95.14,340.75 95.39,356.25 95.65,323.40 95.91,341.95 96.17,351.97 96.43,345.42 96.69,337.31 96.94,325.36 97.20,333.48 97.46,321.68 97.72,330.88 97.98,297.22 98.23,312.22 98.49,296.99 98.75,330.48 99.01,313.55 99.27,329.90 99.52,317.33 99.78,316.82 100.04,336.25 100.30,327.26 100.56,334.71 100.81,337.37 101.07,332.55 101.33,330.20 101.59,336.00 101.85,320.56 102.11,317.87 102.36,333.10 102.62,324.30 102.88,322.26 103.14,325.52 103.40,298.96 103.65,321.18 103.91,318.63 104.17,322.97 104.43,327.99 104.69,316.41 104.94,324.43 105.20,346.86 105.46,344.29 105.72,331.11 105.98,348.09 106.24,336.91 106.49,337.29 106.75,345.71 107.01,345.56 107.27,360.83 107.53,343.35 107.78,363.92 108.04,325.02 108.30,308.46 108.56,327.19 108.82,338.53 109.07,315.09 109.33,326.97 109.59,325.99 109.85,331.02 110.11,345.44 110.36,333.64 110.62,339.70 110.88,342.58 111.14,345.51 111.40,337.71 111.66,331.28 111.91,347.85 112.17,319.61 112.43,323.19 112.69,333.73 112.95,340.71 113.20,336.10 113.46,330.55 113.72,343.87 113.98,350.99 114.24,334.08 114.49,360.19 114.75,342.97 115.01,339.24 115.27,344.52 115.53,341.46 115.78,342.17 116.04,343.38 116.30,348.97 116.56,353.54 116.82,348.73 117.08,345.33 117.33,332.13 117.59,330.62 117.85,346.65 118.11,353.25 118.37,352.57 118.62,344.79 118.88,337.92 119.14,351.96 119.40,360.71 119.66,367.26 119.91,346.66 120.17,348.75 120.43,350.94 120.69,348.33 120.95,331.21 121.20,348.63 121.46,330.66 121.72,334.24 121.98,351.91 122.24,344.39 122.50,347.72 122.75,355.03 123.01,350.03 123.27,357.18 123.53,345.27 123.79,345.16 124.04,341.00 124.30,341.68 124.56,385.89 124.82,354.40 125.08,376.94 125.33,361.87 125.59,362.76 125.85,347.11 126.11,338.27 126.37,358.36 126.62,336.39 126.88,338.27 127.14,367.22 127.40,328.66 127.66,334.39 127.92,339.75 128.17,342.51 128.43,301.74 128.69,336.34 128.95,350.20 129.21,342.83 129.46,334.40 129.72,333.49 129.98,326.05 130.24,335.86 130.50,308.60 130.75,335.22 131.01,343.00 131.27,341.54 131.53,336.93 131.79,320.78 132.05,327.90 132.30,336.69 132.56,330.86 132.82,333.73 133.08,322.15 133.34,350.72 133.59,340.56 133.85,337.85 134.11,354.97 134.37,346.25 134.63,342.69 134.88,346.67 135.14,343.38 135.40,339.69 135.66,338.82 135.92,360.80 136.17,346.96 136.43,330.39 136.69,362.83 136.95,356.60 137.21,349.61 137.47,357.27 137.72,350.30 137.98,357.47 138.24,352.78 138.50,350.25 138.76,365.77 139.01,358.17 139.27,361.12 139.53,361.96 139.79,361.46 140.05,369.86 140.30,357.61 140.56,348.81 140.82,348.68 141.08,348.97 141.34,367.41 141.59,345.18 141.85,361.83 142.11,355.37 142.37,336.90 142.63,360.98 142.89,345.02 143.14,351.63 143.40,354.83 143.66,363.12 143.92,350.47 144.18,355.24 144.43,340.08 144.69,341.07 144.95,355.67 145.21,361.50 145.47,360.13 145.72,364.14 145.98,365.37 146.24,355.51 146.50,355.88 146.76,370.80 147.01,361.51 147.27,346.65 147.53,358.41 147.79,355.73 148.05,334.37 148.31,341.55 148.56,366.72 148.82,381.66 149.08,349.79 149.34,366.23 149.60,358.22 149.85,360.83 150.11,350.91 150.37,374.21 150.63,371.30 150.89,369.02 151.14,352.01 151.40,366.76 151.66,381.58 151.92,358.44 152.18,354.22 152.43,364.07 152.69,363.21 152.95,358.34 153.21,355.17 153.47,367.53 153.73,364.77 153.98,363.25 154.24,369.64 154.50,368.95 154.76,353.89 155.02,359.98 155.27,359.98 155.53,351.73 155.79,355.58 156.05,349.97 156.31,318.24 156.56,350.19 156.82,357.55 157.08,359.90 157.34,360.68 157.60,343.84 157.86,347.24 158.11,365.65 158.37,368.31 158.63,357.82 158.89,365.27 159.15,339.41 159.40,371.61 159.66,378.08 159.92,362.97 160.18,366.79 160.44,367.04 160.69,364.92 160.95,354.13 161.21,373.83 161.47,372.74 161.73,378.79 161.98,358.07 162.24,349.16 162.50,358.23 162.76,348.06 163.02,355.46 163.28,345.04 163.53,358.26 163.79,366.01 164.05,360.92 164.31,369.67 164.57,370.41 164.82,351.30 165.08,352.08 165.34,343.31 165.60,365.37 165.86,366.19 166.11,375.85 166.37,352.22 166.63,356.29 166.89,368.29 167.15,356.91 167.40,361.90 167.66,382.69 167.92,332.70 168.18,361.57 168.44,372.50 168.70,372.66 168.95,350.62 169.21,350.99 169.47,344.47 169.73,375.64 169.99,369.20 170.24,357.41 170.50,375.28 170.76,369.48 171.02,377.11 171.28,346.89 171.53,353.44 171.79,362.75 172.05,368.79 172.31,371.36 172.57,370.65 172.82,366.16 173.08,379.20 173.34,360.13 173.60,369.16 173.86,369.14 174.12,347.85 174.37,367.38 174.63,361.13 174.89,348.95 175.15,383.13 175.41,357.17 175.66,375.32 175.92,348.36 176.18,368.49 176.44,373.62 176.70,358.94 176.95,352.00 177.21,358.43 177.47,367.53 177.73,344.38 177.99,370.92 178.24,362.54 178.50,367.94 178.76,363.57 179.02,352.66 179.28,360.83 179.54,350.39 179.79,351.36 180.05,370.92 180.31,369.02 180.57,364.72 180.83,360.46 181.08,357.30 181.34,380.11 181.60,357.06 181.86,360.85 182.12,332.70 182.37,381.60 182.63,371.26 182.89,376.98 183.15,367.32 183.41,375.23 183.67,369.98 183.92,378.02 184.18,352.35 184.44,383.91 184.70,370.93 184.96,363.48 185.21,381.42 185.47,365.17 185.73,379.41 185.99,392.95 186.25,377.08 186.50,373.04 186.76,369.29 187.02,376.18 187.28,375.50 187.54,356.64 187.79,378.14 188.05,385.97 188.31,369.65 188.57,368.03 188.83,360.02 189.09,353.89 189.34,377.51 189.60,359.71 189.86,356.37 190.12,373.05 190.38,369.07 190.63,400.74 190.89,382.23 191.15,359.76 191.41,391.79 191.67,377.68 191.92,366.34 192.18,371.51 192.44,361.12 192.70,384.18 192.96,365.80 193.21,354.86 193.47,375.62 193.73,370.27 193.99,356.95 194.25,359.27 194.51,363.23 194.76,394.38 195.02,373.19 195.28,367.69 195.54,379.59 195.80,377.55 196.05,343.33 196.31,366.04 196.57,357.42 196.83,359.34 197.09,368.16 197.34,372.12 197.60,377.90 197.86,366.28 198.12,372.18 198.38,377.28 198.63,367.97 198.89,409.82 199.15,378.50 199.41,359.10 199.67,364.37 199.93,381.07 200.18,376.66 200.44,357.70 200.70,358.00 200.96,374.72 201.22,365.86 201.47,378.65 201.73,382.78 201.99,365.46 202.25,363.50 202.51,363.62 202.76,371.61 203.02,370.60 203.28,386.39 203.54,378.75 203.80,370.71 204.05,377.18 204.31,371.63 204.57,392.76 204.83,389.99 205.09,369.39 205.35,363.44 205.60,373.87 205.86,379.28 206.12,386.11 206.38,365.69 206.64,364.60 206.89,383.14 207.15,370.98 207.41,377.70 207.67,374.86 207.93,388.04 208.18,372.02 208.44,391.80 208.70,365.53 208.96,374.38 209.22,380.51 209.48,359.94 209.73,367.66 209.99,379.27 210.25,352.37 210.51,379.58 210.77,368.32 211.02,354.15 211.28,386.97 211.54,358.03 211.80,375.26 212.06,376.97 212.31,388.49 212.57,375.51 212.83,386.82 213.09,387.83 213.35,377.12 213.60,388.13 213.86,364.46 214.12,389.19 214.38,387.91 214.64,381.28 214.90,376.06 215.15,370.09 215.41,363.71 215.67,374.61 215.93,375.44 216.19,375.74 216.44,374.24 216.70,376.46 216.96,387.19 217.22,401.16 217.48,374.12 217.73,377.60 217.99,385.35 218.25,388.14 218.51,388.51 218.77,392.98 219.02,386.99 219.28,387.84 219.54,386.51 219.80,394.14 220.06,382.07 220.32,379.81 220.57,383.67 220.83,376.97 221.09,393.43 221.35,372.86 221.61,373.46 221.86,384.29 222.12,386.74 222.38,366.91 222.64,379.34 222.90,368.06 223.15,378.12 223.41,407.41 223.67,372.47 223.93,383.75 224.19,365.79 224.44,374.58 224.70,366.92 224.96,371.49 225.22,373.50 225.48,368.09 225.74,360.39 225.99,362.74 226.25,364.76 226.51,367.27 226.77,368.01 227.03,370.88 227.28,374.38 227.54,377.85 227.80,379.45 228.06,358.75 228.32,381.68 228.57,381.79 228.83,381.47 229.09,374.88 229.35,373.30 229.61,389.06 229.86,399.38 230.12,377.93 230.38,388.27 230.64,368.55 230.90,371.88 231.16,359.62 231.41,359.13 231.67,367.11 231.93,376.88 232.19,379.98 232.45,375.08 232.70,369.34 232.96,387.57 233.22,372.43 233.48,373.22 233.74,363.69 233.99,359.87 234.25,356.75 234.51,366.81 234.77,369.97 235.03,379.50 235.29,369.53 235.54,359.66 235.80,370.58 236.06,372.61 236.32,351.98 236.58,354.29 236.83,376.70 237.09,364.91 237.35,375.30 237.61,388.42 237.87,367.72 238.12,373.78 238.38,370.82 238.64,367.45 238.90,373.56 239.16,375.32 239.41,390.61 239.67,379.30 239.93,369.67 240.19,372.33 240.45,382.27 240.71,376.65 240.96,370.93 241.22,361.78 241.48,358.14 241.74,385.79 242.00,369.08 242.25,386.41 242.51,379.75 242.77,373.21 243.03,390.53 243.29,379.90 243.54,373.49 243.80,365.46 244.06,342.34 244.32,373.38 244.58,346.29 244.83,372.02 245.09,378.22 245.35,360.51 245.61,372.13 245.87,384.37 246.13,373.31 246.38,382.84 246.64,379.71 246.90,379.52 247.16,386.89 247.42,369.28 247.67,379.52 247.93,386.25 248.19,390.15 248.45,379.44 248.71,386.48 248.96,379.20 249.22,369.94 249.48,375.38 249.74,394.11 250.00,375.62 250.25,370.17 250.51,337.52 250.77,367.67 251.03,382.26 251.29,380.61 251.55,368.61 251.80,382.83 252.06,368.74 252.32,371.88 252.58,381.40 252.84,369.45 253.09,381.91 253.35,397.29 253.61,385.74 253.87,395.48 254.13,391.55 254.38,390.00 254.64,382.92 254.90,392.02 255.16,399.85 255.42,400.69 255.67,390.24 255.93,400.53 256.19,396.82 256.45,392.57 256.71,392.56 256.97,386.82 257.22,381.63 257.48,374.28 257.74,385.02 258.00,388.96 258.26,383.60 258.51,386.65 258.77,397.49 259.03,386.69 259.29,390.37 259.55,392.53 259.80,394.16 260.06,391.26 260.32,391.62 260.58,401.68 260.84,387.25 261.10,386.29 261.35,383.51 261.61,386.11 261.87,384.53 262.13,412.23 262.39,394.51 262.64,407.18 262.90,405.42 263.16,410.32 263.42,376.14 263.68,405.48 263.93,388.12 264.19,379.92 264.45,398.89 264.71,379.93 264.97,392.40 265.22,387.67 265.48,370.02 265.74,387.04 266.00,394.20 266.26,382.56 266.52,388.14 266.77,395.48 267.03,393.28 267.29,362.98 267.55,392.56 267.81,386.44 268.06,390.77 268.32,378.06 268.58,390.02 268.84,392.64 269.10,396.61 269.35,403.21 269.61,397.79 269.87,381.46 270.13,362.09 270.39,375.74 270.64,365.10 270.90,374.75 271.16,379.29 271.42,391.11 271.68,380.32 271.94,403.80 272.19,389.66 272.45,370.30 272.71,381.87 272.97,369.23 273.23,385.18 273.48,402.56 273.74,394.73 274.00,392.12 274.26,375.94 274.52,368.51 274.77,395.05 275.03,386.06 275.29,386.51 275.55,385.76 275.81,394.81 276.06,386.59 276.32,378.77 276.58,386.66 276.84,402.00 277.10,389.03 277.36,403.39 277.61,376.04 277.87,392.97 278.13,387.14 278.39,380.97 278.65,383.51 278.90,388.57 279.16,398.47 279.42,369.01 279.68,379.08 279.94,376.74 280.19,360.33 280.45,382.07 280.71,373.49 280.97,383.58 281.23,355.61 281.48,347.16 281.74,381.95 282.00,385.01 282.26,381.18 282.52,374.43 282.78,395.89 283.03,375.90 283.29,374.87 283.55,374.54 283.81,387.10 284.07,361.59 284.32,373.37 284.58,362.35 284.84,368.67 285.10,380.61 285.36,371.91 285.61,397.14 285.87,392.61 286.13,385.31 286.39,379.21 286.65,379.86 286.91,377.08 287.16,352.71 287.42,370.03 287.68,380.67 287.94,370.88 288.20,371.90 288.45,372.71 288.71,372.78 288.97,377.24 289.23,357.35 289.49,372.89 289.74,379.52 290.00,376.39 290.26,375.29 290.52,359.06 290.78,367.92 291.03,367.27 291.29,407.32 291.55,375.26 291.81,371.90 292.07,355.88 292.33,377.14 292.58,397.12 292.84,374.73 293.10,385.31 293.36,398.57 293.62,391.02 293.87,376.49 294.13,374.38 294.39,378.42 294.65,397.19 294.91,365.56 295.16,397.35 295.42,387.09 295.68,411.21 295.94,389.24 296.20,398.86 296.45,394.76 296.71,400.54 296.97,398.62 297.23,394.86 297.49,429.10 297.75,389.30 298.00,385.04 298.26,400.35 298.52,397.07 298.78,390.45 299.04,380.04 299.29,398.61 299.55,401.23 299.81,407.98 300.07,417.54 300.33,406.39 300.58,399.94 300.84,404.86 301.10,399.69 301.36,393.41 301.62,397.02 301.87,398.54 302.13,395.40 302.39,419.24 302.65,405.79 302.91,401.52 303.17,424.28 303.42,401.51 303.68,418.99 303.94,400.83 304.20,408.16 304.46,398.78 304.71,408.18 304.97,416.83 305.23,398.67 305.49,409.27 305.75,406.51 306.00,409.36 306.26,397.72 306.52,406.04 306.78,413.94 307.04,424.28 307.29,415.40 307.55,412.50 307.81,395.42 308.07,410.91 308.33,413.92 308.59,408.73 308.84,419.81 309.10,419.24 309.36,413.94 309.62,424.28 309.88,405.13 310.13,403.89 310.39,412.42 310.65,424.28 310.91,420.59 311.17,402.48 311.42,419.83 311.68,424.28 311.94,412.67 312.20,424.28 312.46,380.90 312.72,415.97 312.97,411.92 313.23,409.58 313.49,419.94 313.75,408.23 314.01,413.64 314.26,416.91 314.52,409.76 314.78,401.10 315.04,394.42 315.30,395.54 315.55,400.21 315.81,424.28 316.07,415.56 316.33,405.16 316.59,397.89 316.84,414.83 317.10,386.47 317.36,395.52 317.62,405.63 317.88,395.46 318.14,400.79 318.39,402.18 318.65,393.80 318.91,373.67 319.17,407.39 319.43,402.25 319.68,397.61 319.94,406.35 320.20,381.32" fill="none" stroke="#000" stroke-width="1.2" stroke-linejoin="miter"/>
<line x1="62.10" y1="260.40" x2="320.20" y2="260.40" stroke="#555555" stroke-width="1.0"/>
<line x1="62.10" y1="453.20" x2="320.20" y2="453.20" stroke="#555555" stroke-width="1.0"/>
<line x1="62.10" y1="260.40" x2="62.10" y2="453.20" stroke="#555555" stroke-width="1.0"/>
<line x1="320.20" y1="260.40" x2="320.20" y2="453.20" stroke="#555555" stroke-width="1.0"/>
<line x1="59.60" y1="453.20" x2="62.10" y2="453.20" stroke="#555555" stroke-width="1.0"/>
<text x="53.80" y="457.30" font-size="11.4" text-anchor="end" fill="#1a1a1a" font-family='"Liberation Sans", sans-serif' font-weight="normal" stroke="#1a1a1a" stroke-width="0.2">16.7</text>
<line x1="59.60" y1="429.10" x2="62.10" y2="429.10" stroke="#555555" stroke-width="1.0"/>
<text x="53.80" y="433.20" font-size="11.4" text-anchor="end" fill="#1a1a1a" font-family='"Liberation Sans", sans-serif' font-weight="normal" stroke="#1a1a1a" stroke-width="0.2">16.8</text>
<line x1="59.60" y1="405.00" x2="62.10" y2="405.00" stroke="#555555" stroke-width="1.0"/>
<text x="53.80" y="409.10" font-size="11.4" text-anchor="end" fill="#1a1a1a" font-family='"Liberation Sans", sans-serif' font-weight="normal" stroke="#1a1a1a" stroke-width="0.2">16.9</text>
<line x1="59.60" y1="380.90" x2="62.10" y2="380.90" stroke="#555555" stroke-width="1.0"/>
<text x="53.80" y="385.00" font-size="11.4" text-anchor="end" fill="#1a1a1a" font-family='"Liberation Sans", sans-serif' font-weight="normal" stroke="#1a1a1a" stroke-width="0.2">17.0</text>
<line x1="59.60" y1="356.80" x2="62.10" y2="356.80" stroke="#555555" stroke-width="1.0"/>
<text x="53.80" y="360.90" font-size="11.4" text-anchor="end" fill="#1a1a1a" font-family='"Liberation Sans", sans-serif' font-weight="normal" stroke="#1a1a1a" stroke-width="0.2">17.1</text>
<line x1="59.60" y1="332.70" x2="62.10" y2="332.70" stroke="#555555" stroke-width="1.0"/>
<text x="53.80" y="336.80" font-size="11.4" text-anchor="end" fill="#1a1a1a" font-family='"Liberation Sans", sans-serif' font-weight="normal" stroke="#1a1a1a" stroke-width="0.2">17.2</text>
<line x1="59.60" y1="308.60" x2="62.10" y2="308.60" stroke="#555555" stroke-width="1.0"/>
<text x="53.80" y="312.70" font-size="11.4" text-anchor="end" fill="#1a1a1a" font-family='"Liberation Sans", sans-serif' font-weight="normal" stroke="#1a1a1a" stroke-width="0.2">17.3</text>
<line x1="59.60" y1="284.50" x2="62.10" y2="284.50" stroke="#555555" stroke-width="1.0"/>
<text x="53.80" y="288.60" font-size="11.4" text-anchor="end" fill="#1a1a1a" font-family='"Liberation Sans", sans-serif' font-weight="normal" stroke="#1a1a1a" stroke-width="0.2">17.4</text>
<line x1="62.10" y1="453.20" x2="62.10" y2="455.90" stroke="#555555" stroke-width="1.0"/>
<text x="62.10" y="472.80" font-size="11.4" text-anchor="middle" fill="#1a1a1a" font-family='"Liberation Sans", sans-serif' font-weight="normal" stroke="#1a1a1a" stroke-width="0.2">0</text>
<line x1="126.62" y1="453.20" x2="126.62" y2="455.90" stroke="#555555" stroke-width="1.0"/>
<text x="126.62" y="472.80" font-size="11.4" text-anchor="middle" fill="#1a1a1a" font-family='"Liberation Sans", sans-serif' font-weight="normal" stroke="#1a1a1a" stroke-width="0.2">50</text>
<line x1="191.15" y1="453.20" x2="191.15" y2="455.90" stroke="#555555" stroke-width="1.0"/>
<text x="191.15" y="472.80" font-size="11.4" text-anchor="middle" fill="#1a1a1a" font-family='"Liberation Sans", sans-serif' font-weight="normal" stroke="#1a1a1a" stroke-width="0.2">100</text>
<line x1="255.67" y1="453.20" x2="255.67" y2="455.90" stroke="#555555" stroke-width="1.0"/>
<text x="255.67" y="472.80" font-size="11.4" text-anchor="middle" fill="#1a1a1a" font-family='"Liberation Sans", sans-serif' font-weight="normal" stroke="#1a1a1a" stroke-width="0.2">150</text>
<line x1="320.20" y1="453.20" x2="320.20" y2="455.90" stroke="#555555" stroke-width="1.0"/>
<text x="320.20" y="472.80" font-size="11.4" text-anchor="middle" fill="#1a1a1a" font-family='"Liberation Sans", sans-serif' font-weight="normal" stroke="#1a1a1a" stroke-width="0.2">200</text>
<text x="191.50" y="495.60" font-size="14.2" text-anchor="middle" fill="#1a1a1a" font-family='"Liberation Sans", sans-serif' font-weight="normal" stroke="#1a1a1a" stroke-width="0.2" textLength="60.80" lengthAdjust="spacingAndGlyphs">Time (ns)</text>
<text x="22.60" y="356.60" font-size="14.2" text-anchor="middle" fill="#1a1a1a" font-family='"Liberation Sans", sans-serif' font-weight="normal" stroke="#1a1a1a" stroke-width="0.2" transform="rotate(-90 22.60 356.60)" textLength="180.20" lengthAdjust="spacingAndGlyphs">Radius of Gyration (Rg, Å)</text>
<text x="0.20" y="260.90" font-size="18.6" text-anchor="start" fill="#000" font-family='"Liberation Serif", serif' font-weight="bold">C</text>
<rect x="401.50" y="335.64" width="1.30" height="47.43" fill="#000"/>
<rect x="403.40" y="335.64" width="2.10" height="47.43" fill="#000"/>
<rect x="407.10" y="335.64" width="1.70" height="47.43" fill="#000"/>
<rect x="409.80" y="335.64" width="9.70" height="47.43" fill="#000"/>
<rect x="422.20" y="335.64" width="3.20" height="47.43" fill="#000"/>
<rect x="427.00" y="335.64" width="1.60" height="47.43" fill="#000"/>
<rect x="429.20" y="335.64" width="2.70" height="47.43" fill="#000"/>
<rect x="435.60" y="335.64" width="1.10" height="47.43" fill="#000"/>
<rect x="444.20" y="335.64" width="8.60" height="47.43" fill="#000"/>
<rect x="453.40" y="335.64" width="7.50" height="47.43" fill="#000"/>
<rect x="462.00" y="335.64" width="1.60" height="47.43" fill="#000"/>
<rect x="466.80" y="335.64" width="8.40" height="47.43" fill="#000"/>
<rect x="476.20" y="335.64" width="3.20" height="47.43" fill="#000"/>
<rect x="480.50" y="335.64" width="1.30" height="47.43" fill="#000"/>
<rect x="482.40" y="335.64" width="5.30" height="47.43" fill="#000"/>
<rect x="488.30" y="335.64" width="2.70" height="47.43" fill="#000"/>
<rect x="491.60" y="335.64" width="1.30" height="47.43" fill="#000"/>
<rect x="495.00" y="335.64" width="2.20" height="47.43" fill="#000"/>
<rect x="498.80" y="335.64" width="3.50" height="47.43" fill="#000"/>
<rect x="502.90" y="335.64" width="4.00" height="47.43" fill="#000"/>
<rect x="512.20" y="335.64" width="1.10" height="47.43" fill="#000"/>
<rect x="513.80" y="335.64" width="6.20" height="47.43" fill="#000"/>
<rect x="520.60" y="335.64" width="1.60" height="47.43" fill="#000"/>
<rect x="522.80" y="335.64" width="1.50" height="47.43" fill="#000"/>
<rect x="524.90" y="335.64" width="3.20" height="47.43" fill="#000"/>
<rect x="528.70" y="335.64" width="2.90" height="47.43" fill="#000"/>
<rect x="533.70" y="335.64" width="1.90" height="47.43" fill="#000"/>
<rect x="537.20" y="335.64" width="5.80" height="47.43" fill="#000"/>
<rect x="543.80" y="335.64" width="14.90" height="47.43" fill="#000"/>
<rect x="560.30" y="335.64" width="2.70" height="47.43" fill="#000"/>
<rect x="565.20" y="335.64" width="1.80" height="47.43" fill="#000"/>
<rect x="567.60" y="335.64" width="3.00" height="47.43" fill="#000"/>
<rect x="576.50" y="335.64" width="6.80" height="47.43" fill="#000"/>
<rect x="584.60" y="335.64" width="16.80" height="47.43" fill="#000"/>
<rect x="601.90" y="335.64" width="3.30" height="47.43" fill="#000"/>
<rect x="607.40" y="335.64" width="1.20" height="47.43" fill="#000"/>
<rect x="609.50" y="335.64" width="1.60" height="47.43" fill="#000"/>
<rect x="613.80" y="335.64" width="1.30" height="47.43" fill="#000"/>
<rect x="615.70" y="335.64" width="5.70" height="47.43" fill="#000"/>
<rect x="624.60" y="335.64" width="1.30" height="47.43" fill="#000"/>
<rect x="633.70" y="335.64" width="1.60" height="47.43" fill="#000"/>
<rect x="637.00" y="335.64" width="1.60" height="47.43" fill="#000"/>
<rect x="643.90" y="335.64" width="2.70" height="47.43" fill="#000"/>
<rect x="647.20" y="335.64" width="1.60" height="47.43" fill="#000"/>
<rect x="658.50" y="335.64" width="1.60" height="47.43" fill="#000"/>
<rect x="664.90" y="335.64" width="2.70" height="47.43" fill="#000"/>
<rect x="669.70" y="335.64" width="1.70" height="47.43" fill="#000"/>
<rect x="401.50" y="383.06" width="2.40" height="47.43" fill="#000"/>
<rect x="406.10" y="383.06" width="4.30" height="47.43" fill="#000"/>
<rect x="414.70" y="383.06" width="1.00" height="47.43" fill="#000"/>
<rect x="419.00" y="383.06" width="4.30" height="47.43" fill="#000"/>
<rect x="424.30" y="383.06" width="1.40" height="47.43" fill="#000"/>
<rect x="426.30" y="383.06" width="2.60" height="47.43" fill="#000"/>
<rect x="429.50" y="383.06" width="3.70" height="47.43" fill="#000"/>
<rect x="433.80" y="383.06" width="1.80" height="47.43" fill="#000"/>
<rect x="438.30" y="383.06" width="5.90" height="47.43" fill="#000"/>
<rect x="445.00" y="383.06" width="0.90" height="47.43" fill="#000"/>
<rect x="450.20" y="383.06" width="3.70" height="47.43" fill="#000"/>
<rect x="454.80" y="383.06" width="0.90" height="47.43" fill="#000"/>
<rect x="456.60" y="383.06" width="2.90" height="47.43" fill="#000"/>
<rect x="460.20" y="383.06" width="3.30" height="47.43" fill="#000"/>
<rect x="464.20" y="383.06" width="1.80" height="47.43" fill="#000"/>
<rect x="466.50" y="383.06" width="5.40" height="47.43" fill="#000"/>
<rect x="474.10" y="383.06" width="2.70" height="47.43" fill="#000"/>
<rect x="478.40" y="383.06" width="2.70" height="47.43" fill="#000"/>
<rect x="482.10" y="383.06" width="2.20" height="47.43" fill="#000"/>
<rect x="485.40" y="383.06" width="3.20" height="47.43" fill="#000"/>
<rect x="489.70" y="383.06" width="2.80" height="47.43" fill="#000"/>
<rect x="493.20" y="383.06" width="2.40" height="47.43" fill="#000"/>
<rect x="496.30" y="383.06" width="2.00" height="47.43" fill="#000"/>
<rect x="502.00" y="383.06" width="2.00" height="47.43" fill="#000"/>
<rect x="504.50" y="383.06" width="4.00" height="47.43" fill="#000"/>
<rect x="510.10" y="383.06" width="3.20" height="47.43" fill="#000"/>
<rect x="514.90" y="383.06" width="2.70" height="47.43" fill="#000"/>
<rect x="519.80" y="383.06" width="5.90" height="47.43" fill="#000"/>
<rect x="530.50" y="383.06" width="5.10" height="47.43" fill="#000"/>
<rect x="536.70" y="383.06" width="1.60" height="47.43" fill="#000"/>
<rect x="538.80" y="383.06" width="1.50" height="47.43" fill="#000"/>
<rect x="543.10" y="383.06" width="3.80" height="47.43" fill="#000"/>
<rect x="549.60" y="383.06" width="3.20" height="47.43" fill="#000"/>
<rect x="558.70" y="383.06" width="1.00" height="47.43" fill="#000"/>
<rect x="560.30" y="383.06" width="3.30" height="47.43" fill="#000"/>
<rect x="565.20" y="383.06" width="4.80" height="47.43" fill="#000"/>
<rect x="573.80" y="383.06" width="2.10" height="47.43" fill="#000"/>
<rect x="582.90" y="383.06" width="2.20" height="47.43" fill="#000"/>
<rect x="595.80" y="383.06" width="1.60" height="47.43" fill="#000"/>
<rect x="599.00" y="383.06" width="1.70" height="47.43" fill="#000"/>
<rect x="602.30" y="383.06" width="2.90" height="47.43" fill="#000"/>
<rect x="606.80" y="383.06" width="1.10" height="47.43" fill="#000"/>
<rect x="610.60" y="383.06" width="4.30" height="47.43" fill="#000"/>
<rect x="617.10" y="383.06" width="4.30" height="47.43" fill="#000"/>
<rect x="622.40" y="383.06" width="2.20" height="47.43" fill="#000"/>
<rect x="626.20" y="383.06" width="3.20" height="47.43" fill="#000"/>
<rect x="631.00" y="383.06" width="9.20" height="47.43" fill="#000"/>
<rect x="642.30" y="383.06" width="2.20" height="47.43" fill="#000"/>
<rect x="645.50" y="383.06" width="2.50" height="47.43" fill="#000"/>
<rect x="648.50" y="383.06" width="2.40" height="47.43" fill="#000"/>
<rect x="652.50" y="383.06" width="2.50" height="47.43" fill="#000"/>
<rect x="655.50" y="383.06" width="5.40" height="47.43" fill="#000"/>
<rect x="661.40" y="383.06" width="4.00" height="47.43" fill="#000"/>
<rect x="670.30" y="383.06" width="1.10" height="47.43" fill="#000"/>
<line x1="401.20" y1="383.06" x2="671.20" y2="383.06" stroke="#000" stroke-width="1.0"/>
<line x1="414.60" y1="287.71" x2="414.60" y2="335.64" stroke="#000" stroke-width="1.5"/>
<line x1="416.60" y1="287.71" x2="416.60" y2="335.64" stroke="#000" stroke-width="1.5"/>
<line x1="457.60" y1="287.71" x2="457.60" y2="335.64" stroke="#000" stroke-width="1.3"/>
<line x1="460.30" y1="287.71" x2="460.30" y2="335.64" stroke="#000" stroke-width="1.3"/>
<line x1="482.60" y1="287.71" x2="482.60" y2="335.64" stroke="#000" stroke-width="1.1"/>
<line x1="520.20" y1="287.71" x2="520.20" y2="335.64" stroke="#000" stroke-width="1.1"/>
<line x1="540.30" y1="287.71" x2="540.30" y2="335.64" stroke="#000" stroke-width="1.1"/>
<line x1="545.70" y1="287.71" x2="545.70" y2="335.64" stroke="#000" stroke-width="1.1"/>
<line x1="552.60" y1="287.71" x2="552.60" y2="335.64" stroke="#000" stroke-width="1.1"/>
<line x1="557.10" y1="287.71" x2="557.10" y2="335.64" stroke="#000" stroke-width="1.1"/>
<line x1="611.30" y1="287.71" x2="611.30" y2="335.64" stroke="#000" stroke-width="1.1"/>
<line x1="401.20" y1="454.20" x2="673.70" y2="454.20" stroke="#555555" stroke-width="1.0"/>
<line x1="401.20" y1="264.50" x2="401.20" y2="454.20" stroke="#555555" stroke-width="1.0"/>
<line x1="397.90" y1="264.50" x2="671.20" y2="264.50" stroke="#555" stroke-width="1.1"/>
<line x1="398.40" y1="454.20" x2="401.20" y2="454.20" stroke="#555555" stroke-width="1.0"/>
<text x="392.20" y="458.30" font-size="11.4" text-anchor="end" fill="#1a1a1a" font-family='"Liberation Sans", sans-serif' font-weight="normal" stroke="#1a1a1a" stroke-width="0.2">0.5</text>
<line x1="398.40" y1="430.49" x2="401.20" y2="430.49" stroke="#555555" stroke-width="1.0"/>
<text x="392.20" y="434.59" font-size="11.4" text-anchor="end" fill="#1a1a1a" font-family='"Liberation Sans", sans-serif' font-weight="normal" stroke="#1a1a1a" stroke-width="0.2">1.0</text>
<line x1="398.40" y1="406.77" x2="401.20" y2="406.77" stroke="#555555" stroke-width="1.0"/>
<text x="392.20" y="410.88" font-size="11.4" text-anchor="end" fill="#1a1a1a" font-family='"Liberation Sans", sans-serif' font-weight="normal" stroke="#1a1a1a" stroke-width="0.2">1.5</text>
<line x1="398.40" y1="383.06" x2="401.20" y2="383.06" stroke="#555555" stroke-width="1.0"/>
<text x="392.20" y="387.16" font-size="11.4" text-anchor="end" fill="#1a1a1a" font-family='"Liberation Sans", sans-serif' font-weight="normal" stroke="#1a1a1a" stroke-width="0.2">2.0</text>
<line x1="398.40" y1="359.35" x2="401.20" y2="359.35" stroke="#555555" stroke-width="1.0"/>
<text x="392.20" y="363.45" font-size="11.4" text-anchor="end" fill="#1a1a1a" font-family='"Liberation Sans", sans-serif' font-weight="normal" stroke="#1a1a1a" stroke-width="0.2">2.5</text>
<line x1="398.40" y1="335.64" x2="401.20" y2="335.64" stroke="#555555" stroke-width="1.0"/>
<text x="392.20" y="339.74" font-size="11.4" text-anchor="end" fill="#1a1a1a" font-family='"Liberation Sans", sans-serif' font-weight="normal" stroke="#1a1a1a" stroke-width="0.2">3.0</text>
<line x1="398.40" y1="311.93" x2="401.20" y2="311.93" stroke="#555555" stroke-width="1.0"/>
<text x="392.20" y="316.03" font-size="11.4" text-anchor="end" fill="#1a1a1a" font-family='"Liberation Sans", sans-serif' font-weight="normal" stroke="#1a1a1a" stroke-width="0.2">3.5</text>
<line x1="398.40" y1="288.21" x2="401.20" y2="288.21" stroke="#555555" stroke-width="1.0"/>
<text x="392.20" y="292.31" font-size="11.4" text-anchor="end" fill="#1a1a1a" font-family='"Liberation Sans", sans-serif' font-weight="normal" stroke="#1a1a1a" stroke-width="0.2">4.0</text>
<line x1="398.40" y1="264.50" x2="401.20" y2="264.50" stroke="#555555" stroke-width="1.0"/>
<text x="392.20" y="268.60" font-size="11.4" text-anchor="end" fill="#1a1a1a" font-family='"Liberation Sans", sans-serif' font-weight="normal" stroke="#1a1a1a" stroke-width="0.2">4.5</text>
<line x1="401.20" y1="454.20" x2="401.20" y2="457.00" stroke="#555555" stroke-width="1.0"/>
<text x="401.20" y="473.30" font-size="11.4" text-anchor="middle" fill="#1a1a1a" font-family='"Liberation Sans", sans-serif' font-weight="normal" stroke="#1a1a1a" stroke-width="0.2">0</text>
<line x1="469.32" y1="454.20" x2="469.32" y2="457.00" stroke="#555555" stroke-width="1.0"/>
<text x="469.32" y="473.30" font-size="11.4" text-anchor="middle" fill="#1a1a1a" font-family='"Liberation Sans", sans-serif' font-weight="normal" stroke="#1a1a1a" stroke-width="0.2">50</text>
<line x1="537.45" y1="454.20" x2="537.45" y2="457.00" stroke="#555555" stroke-width="1.0"/>
<text x="537.45" y="473.30" font-size="11.4" text-anchor="middle" fill="#1a1a1a" font-family='"Liberation Sans", sans-serif' font-weight="normal" stroke="#1a1a1a" stroke-width="0.2">100</text>
<line x1="605.58" y1="454.20" x2="605.58" y2="457.00" stroke="#555555" stroke-width="1.0"/>
<text x="605.58" y="473.30" font-size="11.4" text-anchor="middle" fill="#1a1a1a" font-family='"Liberation Sans", sans-serif' font-weight="normal" stroke="#1a1a1a" stroke-width="0.2">150</text>
<line x1="673.70" y1="454.20" x2="673.70" y2="457.00" stroke="#555555" stroke-width="1.0"/>
<text x="673.70" y="473.30" font-size="11.4" text-anchor="middle" fill="#1a1a1a" font-family='"Liberation Sans", sans-serif' font-weight="normal" stroke="#1a1a1a" stroke-width="0.2">200</text>
<line x1="673.70" y1="449.80" x2="673.70" y2="454.20" stroke="#555555" stroke-width="1.0"/>
<text x="537.40" y="495.80" font-size="14.2" text-anchor="middle" fill="#1a1a1a" font-family='"Liberation Sans", sans-serif' font-weight="normal" stroke="#1a1a1a" stroke-width="0.2" textLength="65.20" lengthAdjust="spacingAndGlyphs">Time (ns)</text>
<text x="364.50" y="359.20" font-size="14.2" text-anchor="middle" fill="#1a1a1a" font-family='"Liberation Sans", sans-serif' font-weight="normal" stroke="#1a1a1a" stroke-width="0.2" transform="rotate(-90 364.50 359.20)" textLength="185.70" lengthAdjust="spacingAndGlyphs">Number of Hydrogen Bonds</text>
<text x="338.00" y="262.70" font-size="18.6" text-anchor="start" fill="#000" font-family='"Liberation Serif", serif' font-weight="bold">D</text>
</g>
</svg></div>
</body></html>
